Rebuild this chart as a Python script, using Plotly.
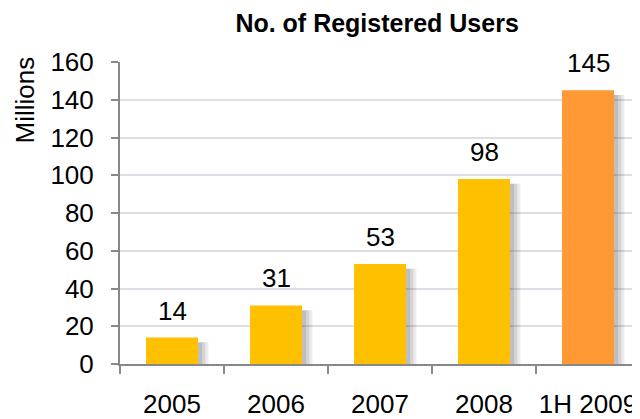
import plotly.graph_objects as go

categories = ["2005", "2006", "2007", "2008", "1H 2009"]
users = [14, 31, 53, 98, 145]
bar_colors = ["#FFC000", "#FFC000", "#FFC000", "#FFC000", "#FF9933"]
y_ticks = [0, 20, 40, 60, 80, 100, 120, 140, 160]

FONT = "Liberation Sans, Arial, sans-serif"
FS = 26

fig = go.Figure()

# soft shadow to the right of bars
for alpha, off in [(0.10, 0.10), (0.12, 0.07), (0.14, 0.04)]:
    fig.add_trace(go.Bar(
        x=categories, y=[v - 2.5 for v in users], base=0,
        width=0.5, offset=-0.25 + off,
        marker=dict(color=f"rgba(60,60,60,{alpha})", line=dict(width=0)),
        hoverinfo="skip", showlegend=False,
    ))

fig.add_trace(go.Bar(
    x=categories, y=users, width=0.5, offset=-0.25,
    marker=dict(color=bar_colors, line=dict(width=0)),
    showlegend=False,
))

for i, v in enumerate(users):
    fig.add_annotation(x=i, y=v, text=str(v), showarrow=False,
                       yanchor="bottom", yshift=10,
                       font=dict(family=FONT, size=FS, color="black"))

fig.add_annotation(text="Millions", xref="paper", yref="paper",
                   x=-0.182, y=0.874, xanchor="center", yanchor="middle",
                   textangle=-90, showarrow=False,
                   font=dict(family=FONT, size=FS, color="black"))

fig.update_layout(
    width=632, height=411,
    margin=dict(l=112, r=0, t=54, b=55),
    paper_bgcolor="white", plot_bgcolor="white",
    barmode="overlay", bargap=0.5,
    title=dict(text="<b>No. of Registered Users</b>", x=0.584, xanchor="center",
               y=0.9635, yanchor="middle",
               font=dict(family=FONT, size=25, color="black")),
    font=dict(family=FONT, size=FS, color="black"),
)

fig.update_xaxes(
    type="category", range=[-0.5, len(categories) - 0.5], automargin=False,
    showline=True, linecolor="#888888", linewidth=2,
    ticks="outside", ticklen=8, tickcolor="#888888", tickwidth=2,
    tickson="boundaries", ticklabelstandoff=16, tickangle=0,
    showgrid=False, tickfont=dict(family=FONT, size=FS, color="black"),
)
fig.update_yaxes(
    range=[0, 160], tickvals=y_ticks, automargin=False,
    showline=True, linecolor="#888888", linewidth=2,
    ticks="outside", ticklen=7, tickcolor="#888888", tickwidth=2,
    ticklabelstandoff=12,
    showgrid=True, gridcolor="#DEDCE4", gridwidth=2, zeroline=False,
    tickfont=dict(family=FONT, size=FS, color="black"),
)

fig.write_html("out.html")
